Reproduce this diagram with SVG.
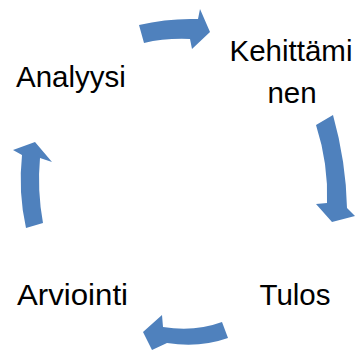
<svg xmlns="http://www.w3.org/2000/svg" width="359" height="351" viewBox="0 0 359 351">
  <style>
    .lbl { font-family: "Liberation Sans", Arial, sans-serif; font-size: 29.5px; fill: #000; }
    .arrow { fill: #4F81BD; }
  </style>
  <rect width="359" height="351" fill="#fff"/>

  <!-- curved cycle arrows -->
  <g id="connectors">
    <path class="arrow" d="M139,25 Q168,18 198,19 L200,9 L210,32 L192,49 L190,39 Q165,38 144,43 Z"/>
    <path class="arrow" d="M316,125 L333,115 Q346,161.5 347,208 L355,216 L332,222 L316,204 L327,203 Q328.5,164 316,125 Z"/>
    <path class="arrow" d="M222,322 L228,338 Q200,348 167,343 L152,350 L143,332 L162,315 L163,327 Q195,332 222,322 Z"/>
    <path class="arrow" d="M26,228 Q18,192 22,155 L13,150 L35,142 L52,162 L40,158 Q37,190 43,223 Z"/>
  </g>

  <g id="kehittaminen">
    <text class="lbl" x="291" y="61" text-anchor="middle">Kehittämi</text>
    <text class="lbl" x="292" y="103" text-anchor="middle">nen</text>
  </g>
  <g id="tulos">
    <text class="lbl" x="295" y="305" text-anchor="middle" font-size="30px">Tulos</text>
  </g>
  <g id="arviointi">
    <text class="lbl" x="17" y="305" font-size="30px" textLength="111" lengthAdjust="spacingAndGlyphs">Arviointi</text>
  </g>
  <g id="analyysi">
    <text class="lbl" x="16" y="87">Analyysi</text>
  </g>
</svg>
